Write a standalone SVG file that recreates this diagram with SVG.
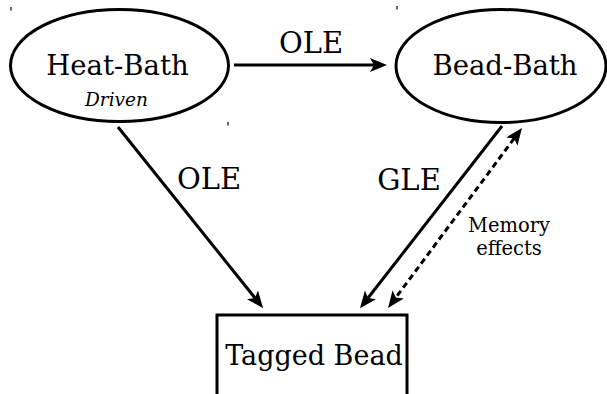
<svg xmlns="http://www.w3.org/2000/svg" width="607" height="394" viewBox="0 0 607 394">
<style>
.node{fill:#fff;stroke:#000;stroke-width:3}
text{font-family:'DejaVu Serif',serif;fill:#000;text-anchor:middle}
.edge{fill:none;stroke:#000;stroke-width:3}
.dash{stroke-dasharray:6,4}
.speck{stroke:#000;stroke-width:1.2}
</style>
<defs>
<marker id="arr" markerUnits="userSpaceOnUse" markerWidth="24" markerHeight="20" viewBox="0 -10 24 20" refX="4" refY="0" orient="auto-start-reverse">
<path d="M17,0 L0,-7 L4,0 L0,7 Z" fill="#000"/>
</marker>
</defs>
<g id="specks">
<line class="speck" x1="11" y1="7" x2="11" y2="10.5"/>
<line class="speck" x1="228" y1="122" x2="228" y2="125.5"/>
<line class="speck" x1="397" y1="6" x2="397" y2="9.5"/>
</g>
<g id="heat-bath">
<ellipse class="node" cx="119.5" cy="65.5" rx="109" ry="56"/>
<text x="117.5" y="75" font-size="27.5">Heat-Bath</text>
<text x="116.5" y="106" font-size="18.5" font-style="italic">Driven</text>
</g>
<g id="bead-bath">
<ellipse class="node" cx="501" cy="66" rx="105" ry="56.5"/>
<text x="505" y="75" font-size="27.5">Bead-Bath</text>
</g>
<g id="tagged-bead">
<rect class="node" x="217" y="315" width="190" height="100" stroke-width="3.5"/>
<text x="314" y="365" font-size="27">Tagged Bead</text>
</g>
<g id="connectors">
<line class="edge" x1="234" y1="65" x2="374" y2="65" marker-end="url(#arr)"/>
<line class="edge" x1="118" y1="127" x2="255" y2="298" marker-end="url(#arr)"/>
<line class="edge" x1="502" y1="126" x2="368" y2="298" marker-end="url(#arr)"/>
<line class="edge dash" x1="514.2" y1="138.4" x2="395.8" y2="297.6" marker-start="url(#arr)" marker-end="url(#arr)"/>
<text x="311" y="53" font-size="29">OLE</text>
<text x="209" y="189" font-size="29">OLE</text>
<text x="409" y="190" font-size="29">GLE</text>
<text x="509" y="232" font-size="19.5">Memory</text>
<text x="509" y="255" font-size="19.5">effects</text>
</g>
</svg>
